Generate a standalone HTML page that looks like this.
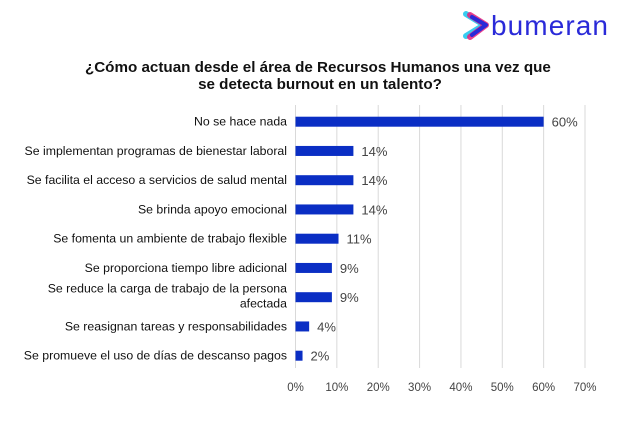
<!DOCTYPE html>
<html><head><meta charset="utf-8"><style>
body{margin:0;width:620px;height:427px;background:#fff;overflow:hidden;font-family:"Liberation Sans",Arial,sans-serif;}
</style></head><body>
<svg width="620" height="427" viewBox="0 0 620 427" xmlns="http://www.w3.org/2000/svg">
<g>
<path d="M466,14 L484,25 L466,36" fill="none" stroke="#22c8ee" stroke-width="6" stroke-linecap="round" stroke-linejoin="round" opacity="0.9"/>
<path d="M470,15 L486,25 L470,37" fill="none" stroke="#e8207a" stroke-width="6" stroke-linecap="round" stroke-linejoin="round" opacity="0.85"/>
<path d="M472,17 L486,25 L472,35" fill="none" stroke="#2a2ad8" stroke-width="4" stroke-linecap="round" stroke-linejoin="round"/>
<text x="491" y="35" font-size="28" fill="#2a2ad8" font-family="Liberation Sans,sans-serif" textLength="117">bumeran</text>
</g>
<text text-anchor="middle" font-size="15.2" font-weight="bold" fill="#111">
<tspan x="320" y="72">¿Cómo actuan desde el área de Recursos Humanos una vez que</tspan>
<tspan x="320" y="89">se detecta burnout en un talento?</tspan></text>
<g id="grid"></g><g id="bars"></g><g id="labels"></g>
</svg>
<script>
const categories=[["No se hace nada"],["Se implementan programas de bienestar laboral"],["Se facilita el acceso a servicios de salud mental"],["Se brinda apoyo emocional"],["Se fomenta un ambiente de trabajo flexible"],["Se proporciona tiempo libre adicional"],["Se reduce la carga de trabajo de la persona","afectada"],["Se reasignan tareas y responsabilidades"],["Se promueve el uso de días de descanso pagos"]];
const values=[60,14,14,14,10.4,8.8,8.8,3.3,1.7];
const valueLabels=["60%","14%","14%","14%","11%","9%","9%","4%","2%"];
const ticks=[0,10,20,30,40,50,60,70];
const tickLabels=["0%","10%","20%","30%","40%","50%","60%","70%"];
const NS="http://www.w3.org/2000/svg";
const x=v=>295.5+v*(289.5/70);
const y=i=>121.7+i*29.25;
function mk(t,a,p){const e=document.createElementNS(NS,t);for(const k in a)e.setAttribute(k,a[k]);p.appendChild(e);return e;}
const G=document.getElementById('grid'),B=document.getElementById('bars'),L=document.getElementById('labels');
ticks.forEach((t,i)=>{
 const l=mk('line',{x1:x(t),x2:x(t),y1:105,y2:368,stroke:'#d9d9d9','stroke-width':1},G);
 
 
 const tx=mk('text',{x:x(t),y:391,'text-anchor':'middle','font-size':11.5,fill:'#444'},G);
 tx.textContent=tickLabels[i];
 
 
});
values.forEach((v,i)=>{
 const r=mk('rect',{x:x(0),y:y(i)-5,width:x(v)-x(0),height:10,fill:'#0a2ec4'},B);
 
 
 const vl=mk('text',{x:x(v)+8,y:y(i)+5,'font-size':13,fill:'#444'},L);
 vl.textContent=valueLabels[i];
 
 
 const lines=categories[i];
 lines.forEach((s,j)=>{
  const c=mk('text',{x:287,y:y(i)+4+(j-(lines.length-1)/2)*15-(lines.length>1?1:0),'text-anchor':'end','font-size':12.3,fill:'#111'},L);
  c.textContent=s;
  
  
 });
});
</script>
</body></html>
